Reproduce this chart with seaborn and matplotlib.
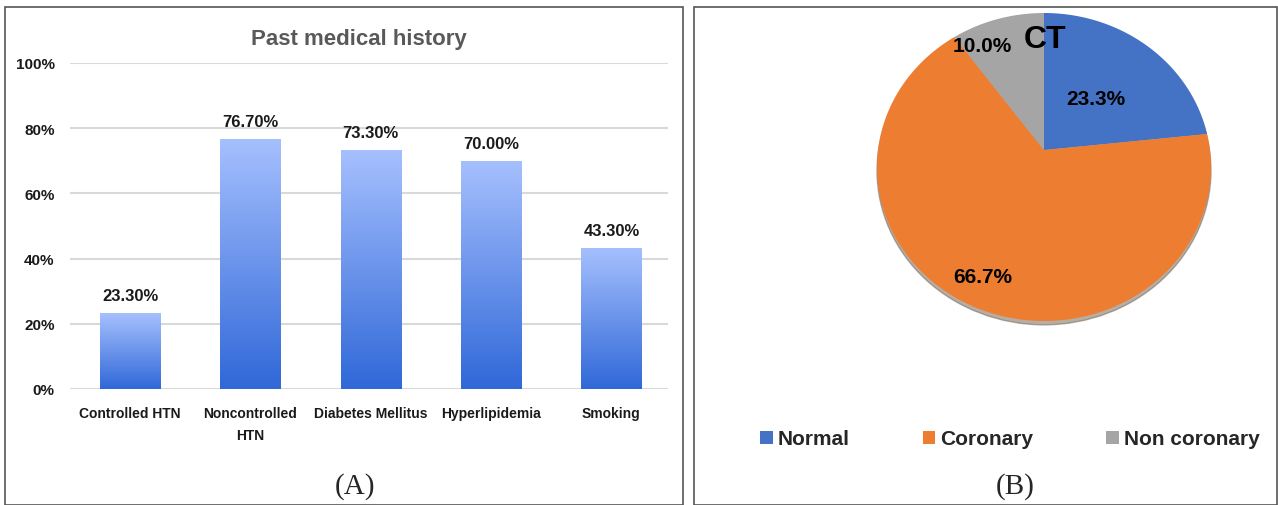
import numpy as np
import matplotlib
matplotlib.use("Agg")
import matplotlib.pyplot as plt
from matplotlib.patches import Rectangle, Ellipse, Patch, Polygon
import seaborn as sns

# ---------------- data ----------------
categories = ["Controlled HTN", "Noncontrolled\nHTN", "Diabetes Mellitus", "Hyperlipidemia", "Smoking"]
history_values = [0.233, 0.767, 0.733, 0.700, 0.433]
history_labels = ["23.30%", "76.70%", "73.30%", "70.00%", "43.30%"]
y_ticks = [0, 0.2, 0.4, 0.6, 0.8, 1.0]
y_tick_labels = ["0%", "20%", "40%", "60%", "80%", "100%"]

ct_labels = ["Normal", "Coronary", "Non coronary"]
ct_values = [23.3, 66.7, 10.0]
ct_pct_text = ["23.3%", "66.7%", "10.0%"]
ct_colors = ["#4472C4", "#ED7D31", "#A5A5A5"]

sns.set_theme(style="white")
SANS = ["Liberation Sans", "DejaVu Sans"]
SERIF = ["Liberation Serif", "DejaVu Serif"]
plt.rcParams["font.family"] = SANS

W, H = 1278, 506
fig = plt.figure(figsize=(W / 100, H / 100), dpi=100)

def fx(x): return x / W
def fy(y): return 1 - y / H

# panel borders
fig.patches.append(Rectangle((fx(5), fy(506)), fx(683) - fx(5), fy(8) - fy(506),
                             transform=fig.transFigure, fill=False, ec="#555555", lw=1.2))
fig.patches.append(Rectangle((fx(694), fy(506)), fx(1277) - fx(694), fy(8) - fy(506),
                             transform=fig.transFigure, fill=False, ec="#555555", lw=1.2))

# ---------------- bar chart ----------------
ax = fig.add_axes([fx(70), fy(390), fx(668) - fx(70), fy(64) - fy(390)])
sns.barplot(x=list(range(len(categories))), y=history_values, ax=ax, width=0.5,
            color="#6f95ea", saturation=1)
grad = np.linspace(0, 1, 256).reshape(-1, 1)
cmap = matplotlib.colors.LinearSegmentedColormap.from_list("g", ["#a6c0fe", "#3068d8"])
for p in ax.patches:
    x0, y0 = p.get_x(), p.get_y()
    w, h = p.get_width(), p.get_height()
    p.set_facecolor("none")
    p.set_edgecolor("none")
    im = ax.imshow(grad, cmap=cmap, aspect="auto", extent=[x0, x0 + w, y0, y0 + h],
                   origin="upper", zorder=2)
    im.set_clip_path(p)
for i, (v, t) in enumerate(zip(history_values, history_labels)):
    ax.annotate(t, (i, v), xytext=(0, 12.5), textcoords="offset points", ha="center",
                va="center", fontsize=12, fontweight="bold", color="#1a1a1a")
ax.set_xlim(-0.5, 4.47)
ax.set_ylim(0, 1.0)
ax.set_yticks(y_ticks)
ax.set_yticklabels(y_tick_labels, fontsize=11, fontweight="bold", color="#1a1a1a")
ax.set_xticks(range(len(categories)))
ax.set_xticklabels(categories, fontsize=10, fontweight="bold", color="#1a1a1a", linespacing=1.75)
ax.tick_params(axis="y", pad=11, length=0)
ax.tick_params(axis="x", pad=12, length=0)
for s in ax.spines.values():
    s.set_visible(False)
ax.yaxis.grid(True, color="#d9d9d9", lw=1.5, zorder=0)
ax.set_axisbelow(True)
ax.set_facecolor("none")
fig.text(fx(359), fy(40), "Past medical history", ha="center", va="center",
         fontsize=16, color="#595959", fontweight="bold")
fig.text(fx(355), fy(487), "(A)", ha="center", va="center", fontsize=21, family=SERIF)

# ---------------- pie chart (tilted view) ----------------
cx, cy, rx, ry = 1044, 168, 167, 154
ax2 = fig.add_axes([fx(cx - 1.1 * rx), fy(cy + 1.1 * ry), 2.2 * rx / W, 2.2 * ry / H])
ax2.add_patch(Ellipse((0.0, -0.025), 2.0, 2.0, color="#7a6a5a", alpha=0.55, zorder=0))
wedges, _ = ax2.pie(ct_values, colors=ct_colors, startangle=90, counterclock=False,
                    radius=1.0, wedgeprops=dict(lw=0))

phi = np.arctanh(0.11)          # perspective tilt: apex sits above the ellipse centre
ch, sh = np.cosh(phi), np.sinh(phi)
def tilt(xy):
    x, y = xy[:, 0], xy[:, 1]
    w = sh * y + ch
    return np.column_stack([x / w, (ch * y + sh) / w])

for wdg in wedges:
    t = np.deg2rad(np.linspace(wdg.theta1, wdg.theta2, 240))
    (x0, y0), r = wdg.center, wdg.r
    arc = np.column_stack([x0 + r * np.cos(t), y0 + r * np.sin(t)])
    pts = np.vstack([[x0, y0], arc])
    ax2.add_patch(Polygon(tilt(pts), closed=True, facecolor=wdg.get_facecolor(),
                          edgecolor="none", zorder=1))
    wdg.set_visible(False)

radii = [0.54, 0.80, 0.87]
angle_shift = [7, -3.5, 7]
for wdg, t, r, da in zip(wedges, ct_pct_text, radii, angle_shift):
    ang = np.deg2rad((wdg.theta1 + wdg.theta2) / 2 + da)
    ax2.text(r * np.cos(ang), r * np.sin(ang), t, ha="center", va="center",
             fontsize=15, fontweight="bold", color="black", zorder=3)
ax2.set_xlim(-1.1, 1.1)
ax2.set_ylim(-1.1, 1.1)
ax2.set_aspect("auto")
ax2.axis("off")
fig.text(fx(1045), fy(40), "CT", ha="center", va="center", fontsize=23,
         fontweight="bold", color="black")
handles = [Patch(facecolor=c, edgecolor="none") for c in ct_colors]
fig.legend(handles, ct_labels, loc="center left", bbox_to_anchor=(fx(760), fy(440)), ncol=3,
           frameon=False, prop=dict(family=SANS, weight="bold", size=15),
           handlelength=0.6, handleheight=0.6, handletextpad=0.25, columnspacing=3.5,
           borderpad=0, borderaxespad=0)
fig.text(fx(1015), fy(487), "(B)", ha="center", va="center", fontsize=21, family=SERIF)

fig.savefig("out.png", dpi=100)
